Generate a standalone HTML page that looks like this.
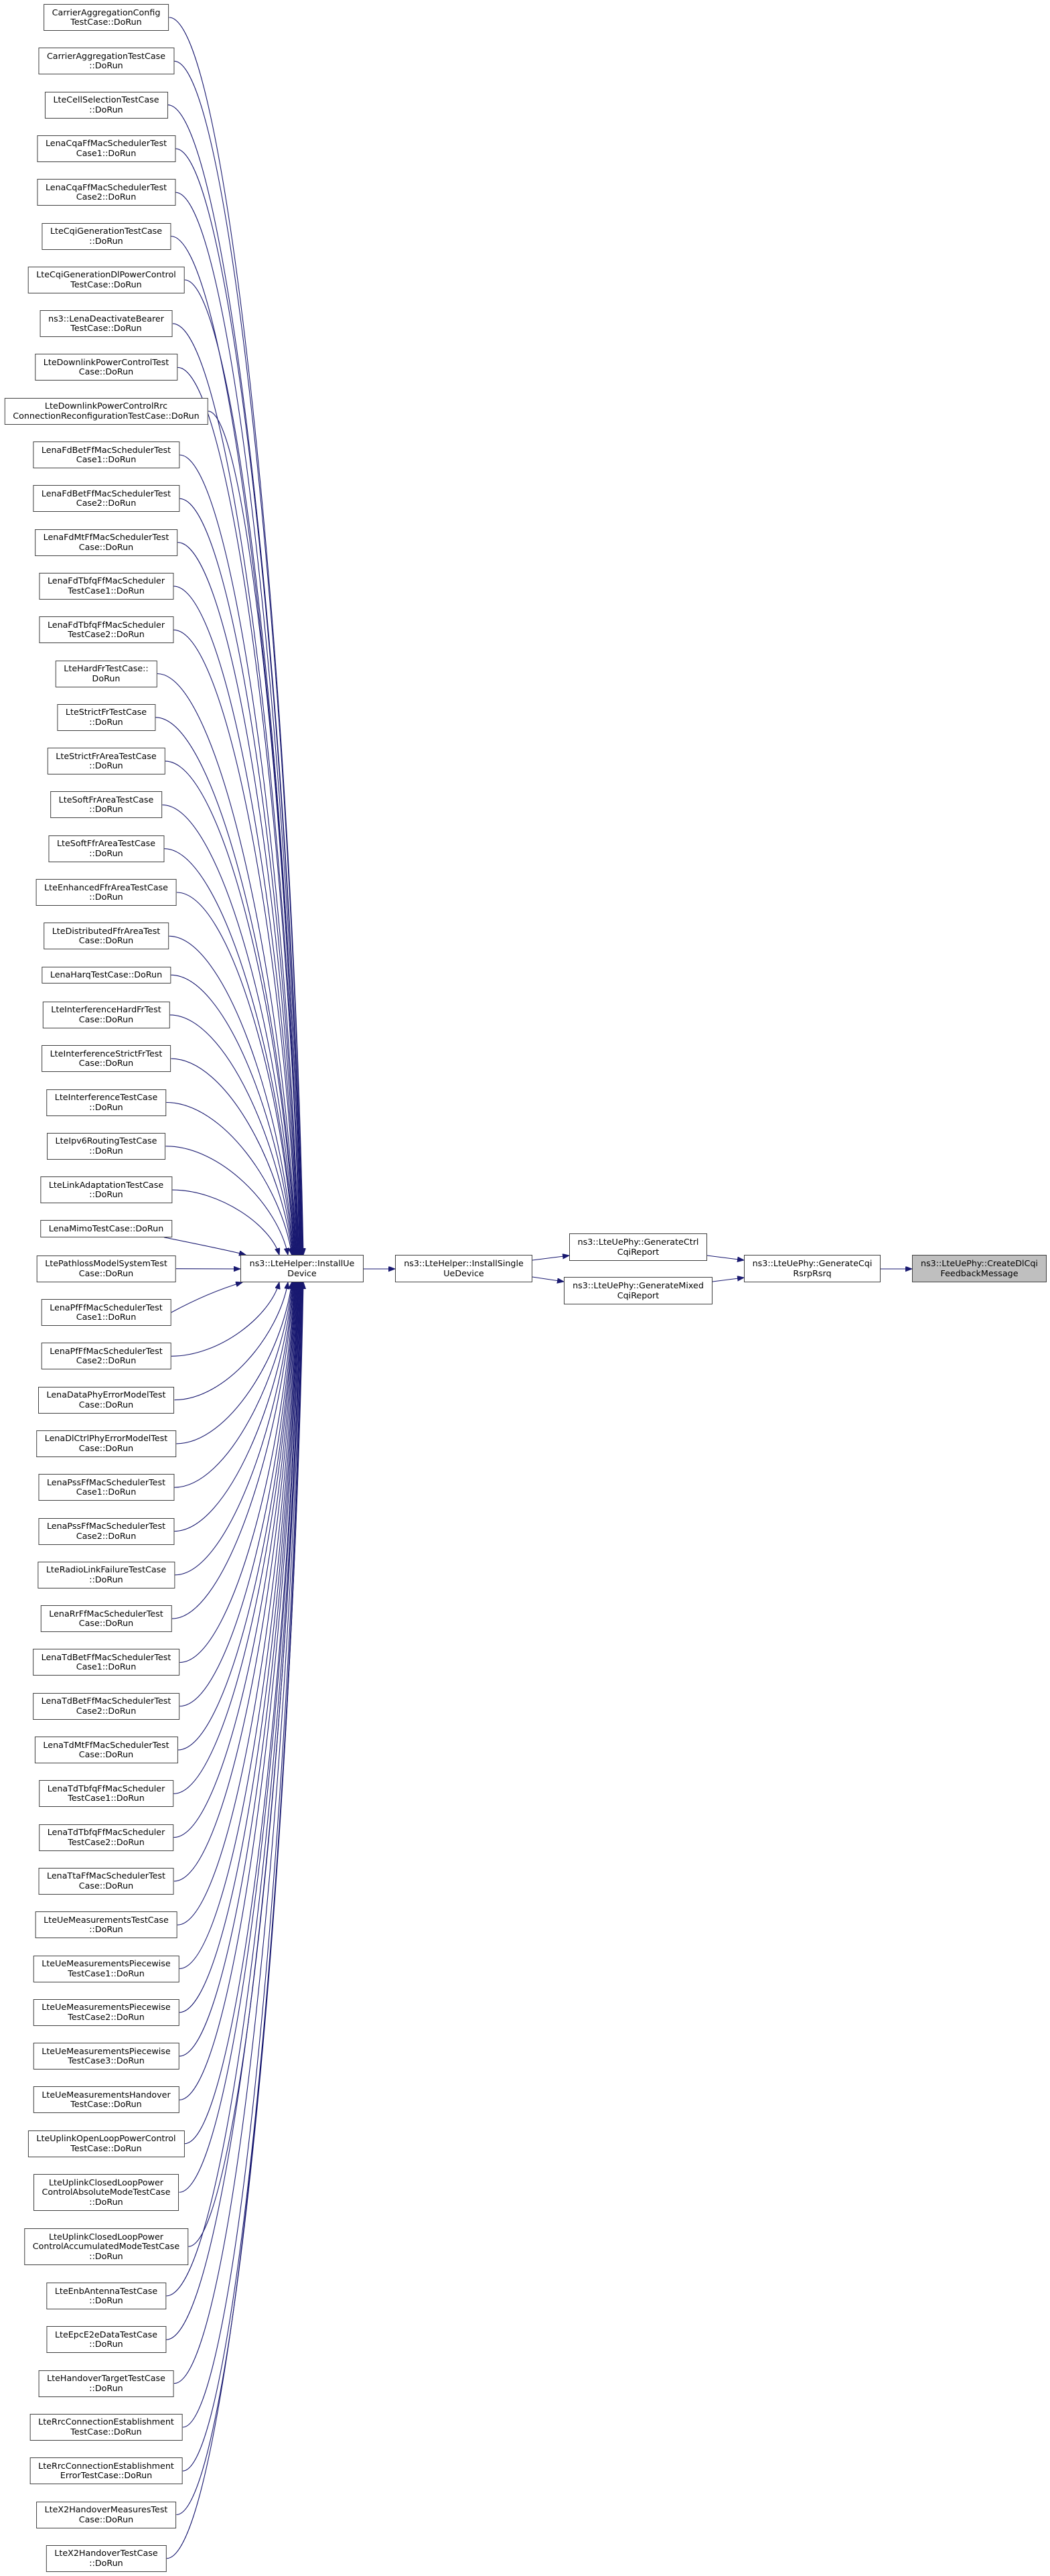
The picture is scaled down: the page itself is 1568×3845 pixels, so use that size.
<!DOCTYPE html>
<html><head><meta charset="utf-8">
<style>
html,body{margin:0;padding:0;background:#fff;}
body{width:1568px;height:3845px;position:relative;overflow:hidden;font-family:"DejaVu Sans","Liberation Sans",sans-serif;}
.l,.c{position:absolute;background:#fff;border:1px solid #404040;font-size:12.7px;line-height:14.5px;color:#000;text-align:center;white-space:nowrap;box-sizing:border-box;}
.l{left:158.5px;transform:translateX(-50%);padding:4.5px 12px;}
.c{display:flex;align-items:center;justify-content:center;height:41px;}
svg{position:absolute;left:0;top:0;}
</style></head><body>
<svg id="s" width="1568" height="3845" viewBox="0 0 1568 3845">
<defs><marker id="a" markerUnits="userSpaceOnUse" markerWidth="11" markerHeight="8" refX="10" refY="3.75" orient="auto"><path d="M0,0 L10,3.75 L0,7.5 z" fill="#191970" stroke="#191970"/></marker></defs>
<g id="g" fill="none" stroke="#191970" stroke-width="1.1"></g>
</svg>
<div class="l">CarrierAggregationConfig<br>TestCase::DoRun</div>
<div class="l">CarrierAggregationTestCase<br>::DoRun</div>
<div class="l">LteCellSelectionTestCase<br>::DoRun</div>
<div class="l">LenaCqaFfMacSchedulerTest<br>Case1::DoRun</div>
<div class="l">LenaCqaFfMacSchedulerTest<br>Case2::DoRun</div>
<div class="l">LteCqiGenerationTestCase<br>::DoRun</div>
<div class="l">LteCqiGenerationDlPowerControl<br>TestCase::DoRun</div>
<div class="l">ns3::LenaDeactivateBearer<br>TestCase::DoRun</div>
<div class="l">LteDownlinkPowerControlTest<br>Case::DoRun</div>
<div class="l">LteDownlinkPowerControlRrc<br>ConnectionReconfigurationTestCase::DoRun</div>
<div class="l">LenaFdBetFfMacSchedulerTest<br>Case1::DoRun</div>
<div class="l">LenaFdBetFfMacSchedulerTest<br>Case2::DoRun</div>
<div class="l">LenaFdMtFfMacSchedulerTest<br>Case::DoRun</div>
<div class="l">LenaFdTbfqFfMacScheduler<br>TestCase1::DoRun</div>
<div class="l">LenaFdTbfqFfMacScheduler<br>TestCase2::DoRun</div>
<div class="l">LteHardFrTestCase::<br>DoRun</div>
<div class="l">LteStrictFrTestCase<br>::DoRun</div>
<div class="l">LteStrictFrAreaTestCase<br>::DoRun</div>
<div class="l">LteSoftFrAreaTestCase<br>::DoRun</div>
<div class="l">LteSoftFfrAreaTestCase<br>::DoRun</div>
<div class="l">LteEnhancedFfrAreaTestCase<br>::DoRun</div>
<div class="l">LteDistributedFfrAreaTest<br>Case::DoRun</div>
<div class="l">LenaHarqTestCase::DoRun</div>
<div class="l">LteInterferenceHardFrTest<br>Case::DoRun</div>
<div class="l">LteInterferenceStrictFrTest<br>Case::DoRun</div>
<div class="l">LteInterferenceTestCase<br>::DoRun</div>
<div class="l">LteIpv6RoutingTestCase<br>::DoRun</div>
<div class="l">LteLinkAdaptationTestCase<br>::DoRun</div>
<div class="l">LenaMimoTestCase::DoRun</div>
<div class="l">LtePathlossModelSystemTest<br>Case::DoRun</div>
<div class="l">LenaPfFfMacSchedulerTest<br>Case1::DoRun</div>
<div class="l">LenaPfFfMacSchedulerTest<br>Case2::DoRun</div>
<div class="l">LenaDataPhyErrorModelTest<br>Case::DoRun</div>
<div class="l">LenaDlCtrlPhyErrorModelTest<br>Case::DoRun</div>
<div class="l">LenaPssFfMacSchedulerTest<br>Case1::DoRun</div>
<div class="l">LenaPssFfMacSchedulerTest<br>Case2::DoRun</div>
<div class="l">LteRadioLinkFailureTestCase<br>::DoRun</div>
<div class="l">LenaRrFfMacSchedulerTest<br>Case::DoRun</div>
<div class="l">LenaTdBetFfMacSchedulerTest<br>Case1::DoRun</div>
<div class="l">LenaTdBetFfMacSchedulerTest<br>Case2::DoRun</div>
<div class="l">LenaTdMtFfMacSchedulerTest<br>Case::DoRun</div>
<div class="l">LenaTdTbfqFfMacScheduler<br>TestCase1::DoRun</div>
<div class="l">LenaTdTbfqFfMacScheduler<br>TestCase2::DoRun</div>
<div class="l">LenaTtaFfMacSchedulerTest<br>Case::DoRun</div>
<div class="l">LteUeMeasurementsTestCase<br>::DoRun</div>
<div class="l">LteUeMeasurementsPiecewise<br>TestCase1::DoRun</div>
<div class="l">LteUeMeasurementsPiecewise<br>TestCase2::DoRun</div>
<div class="l">LteUeMeasurementsPiecewise<br>TestCase3::DoRun</div>
<div class="l">LteUeMeasurementsHandover<br>TestCase::DoRun</div>
<div class="l">LteUplinkOpenLoopPowerControl<br>TestCase::DoRun</div>
<div class="l">LteUplinkClosedLoopPower<br>ControlAbsoluteModeTestCase<br>::DoRun</div>
<div class="l">LteUplinkClosedLoopPower<br>ControlAccumulatedModeTestCase<br>::DoRun</div>
<div class="l">LteEnbAntennaTestCase<br>::DoRun</div>
<div class="l">LteEpcE2eDataTestCase<br>::DoRun</div>
<div class="l">LteHandoverTargetTestCase<br>::DoRun</div>
<div class="l">LteRrcConnectionEstablishment<br>TestCase::DoRun</div>
<div class="l">LteRrcConnectionEstablishment<br>ErrorTestCase::DoRun</div>
<div class="l">LteX2HandoverMeasuresTest<br>Case::DoRun</div>
<div class="l">LteX2HandoverTestCase<br>::DoRun</div>

<div class="c" style="left:359px;top:1873px;width:184px;">ns3::LteHelper::InstallUe<br>Device</div>
<div class="c" style="left:590px;top:1873px;width:205px;">ns3::LteHelper::InstallSingle<br>UeDevice</div>
<div class="c" style="left:850px;top:1841px;width:206px;">ns3::LteUePhy::GenerateCtrl<br>CqiReport</div>
<div class="c" style="left:842px;top:1906px;width:222px;">ns3::LteUePhy::GenerateMixed<br>CqiReport</div>
<div class="c" style="left:1111px;top:1873px;width:204px;">ns3::LteUePhy::GenerateCqi<br>RsrpRsrq</div>
<div class="c" style="left:1362px;top:1873px;width:201px;background:#bfbfbf;">ns3::LteUePhy::CreateDlCqi<br>FeedbackMessage</div>

<script>
(function(){
var ns=[].slice.call(document.querySelectorAll('.l'));
var y=6;
ns.forEach(function(n){
  n.style.top=y+'px';
  var k=n.innerHTML.split(/<br\s*\/?>/i).length;
  y+= k==1?52.3:(k==3?81:65.3);
});
var g=document.getElementById('g');
function P(d){var p=document.createElementNS('http://www.w3.org/2000/svg','path');p.setAttribute('d',d);p.setAttribute('marker-end','url(#a)');g.appendChild(p);}
ns.forEach(function(n,i){
  var r=n.getBoundingClientRect();
  var R=r.right, yc=(r.top+r.bottom)/2, idx=i+1;
  if(idx==30){P('M'+R+','+yc+' L359,1894');return;}
  if(idx==29){P('M245,'+r.bottom+' C300,1858 340,1866 367,1873');return;}
  if(idx==31){P('M'+R+','+yc+' C300,1935 335,1922 362,1914');return;}
  var above=idx<30, ty=above?1873:1914, tx, dist=above?(29-idx):(idx-31);
  if(dist==1) tx=417; else if(dist==2) tx=430; else tx=435+Math.min(18,(dist-2)*0.7);
  var c1x=R+0.45*(tx-R), c2x=tx-0.08*(tx-R), c2y=yc+0.55*(ty-yc);
  P('M'+R+','+yc+' C'+c1x+','+yc+' '+c2x+','+c2y+' '+tx+','+ty);
});
P('M543,1894 L590,1894');
P('M795,1881 L850,1874');
P('M795,1906 L842,1913');
P('M1056,1874 L1111,1881');
P('M1064,1913 L1111,1907');
P('M1315,1894 L1362,1894');
})();
</script>
</body></html>
